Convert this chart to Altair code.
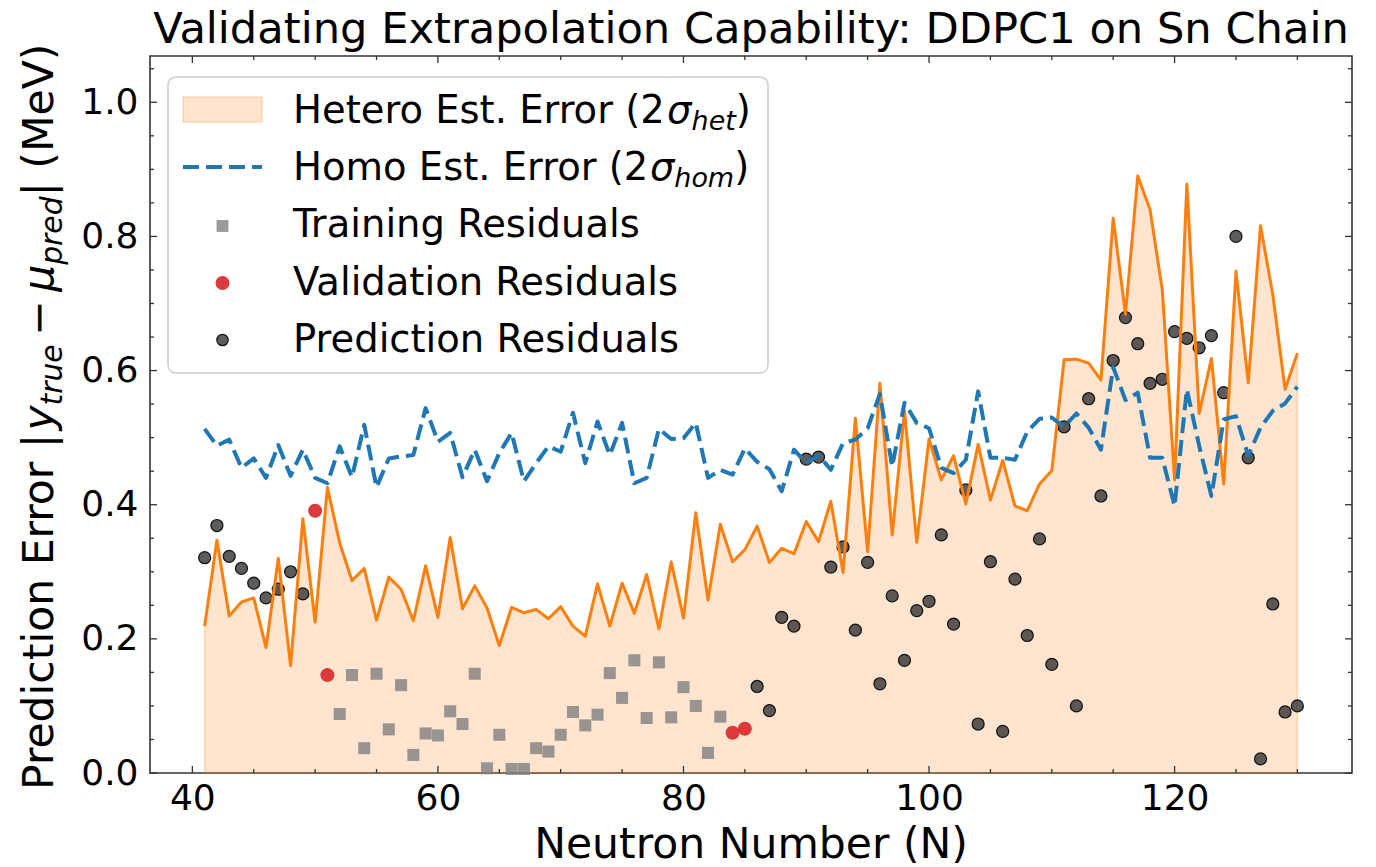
import altair as alt
import pandas as pd

# ---------------- data ----------------
N_all = list(range(41, 131))
het = [0.219, 0.347, 0.234, 0.255, 0.261, 0.187, 0.320, 0.160, 0.379, 0.225,
       0.426, 0.343, 0.287, 0.305, 0.228, 0.292, 0.274, 0.227, 0.309, 0.232,
       0.351, 0.245, 0.279, 0.246, 0.190, 0.247, 0.239, 0.244, 0.230, 0.248,
       0.219, 0.204, 0.282, 0.219, 0.283, 0.238, 0.296, 0.215, 0.315, 0.231,
       0.388, 0.258, 0.371, 0.315, 0.333, 0.368, 0.314, 0.335, 0.327, 0.375,
       0.345, 0.405, 0.299, 0.529, 0.330, 0.581, 0.355, 0.540, 0.344, 0.498,
       0.437, 0.473, 0.401, 0.490, 0.407, 0.466, 0.398, 0.391, 0.431, 0.451,
       0.616, 0.617, 0.611, 0.586, 0.827, 0.684, 0.890, 0.840, 0.720, 0.437,
       0.878, 0.536, 0.618, 0.431, 0.748, 0.582, 0.816, 0.713, 0.572, 0.626]
hom = [0.513, 0.488, 0.497, 0.455, 0.469, 0.440, 0.489, 0.443, 0.482, 0.440,
       0.432, 0.487, 0.441, 0.519, 0.426, 0.469, 0.472, 0.474, 0.544, 0.494,
       0.507, 0.441, 0.482, 0.435, 0.477, 0.507, 0.435, 0.462, 0.487, 0.479,
       0.537, 0.462, 0.524, 0.474, 0.522, 0.432, 0.440, 0.513, 0.498, 0.499,
       0.522, 0.440, 0.452, 0.445, 0.484, 0.464, 0.453, 0.420, 0.482, 0.462,
       0.474, 0.452, 0.492, 0.497, 0.514, 0.565, 0.457, 0.552, 0.522, 0.514,
       0.455, 0.447, 0.467, 0.569, 0.470, 0.470, 0.467, 0.509, 0.528, 0.530,
       0.516, 0.536, 0.515, 0.482, 0.605, 0.556, 0.567, 0.470, 0.470, 0.398,
       0.572, 0.488, 0.413, 0.527, 0.532, 0.473, 0.515, 0.540, 0.551, 0.576]

train_N = list(range(52, 84))
train_v = [0.088, 0.146, 0.037, 0.148, 0.065, 0.131, 0.027, 0.059, 0.056, 0.092,
           0.073, 0.148, 0.007, 0.057, 0.006, 0.006, 0.037, 0.032, 0.057, 0.091,
           0.071, 0.087, 0.149, 0.112, 0.168, 0.082, 0.165, 0.083, 0.128, 0.100,
           0.030, 0.084]

val_N = [50, 51, 84, 85]
val_v = [0.391, 0.146, 0.060, 0.066]

pred_N = list(range(41, 50)) + list(range(86, 131))
pred_v = [0.321, 0.369, 0.323, 0.305, 0.283, 0.261, 0.274, 0.300, 0.267,
          0.129, 0.093, 0.232, 0.219, 0.468, 0.471, 0.307, 0.337, 0.213, 0.314,
          0.133, 0.264, 0.168, 0.242, 0.256, 0.355, 0.222, 0.422, 0.073, 0.315,
          0.062, 0.289, 0.205, 0.349, 0.162, 0.516, 0.100, 0.558, 0.413, 0.615,
          0.679, 0.640, 0.581, 0.587, 0.658, 0.648, 0.634, 0.652, 0.567, 0.800,
          0.470, 0.021, 0.252, 0.091, 0.100]

x_major = [40, 60, 80, 100, 120]
x_minor = [45, 50, 55, 65, 70, 75, 85, 90, 95, 105, 110, 115, 125, 130]
y_major = [0.0, 0.2, 0.4, 0.6, 0.8, 1.0]
y_minor = [0.05, 0.1, 0.15, 0.25, 0.3, 0.35, 0.45, 0.5, 0.55, 0.65, 0.7, 0.75,
           0.85, 0.9, 0.95, 1.05]

title_text = "Validating Extrapolation Capability: DDPC1 on Sn Chain"
xlabel_text = "Neutron Number (N)"
legend_rows = ["Hetero Est. Error", "Homo Est. Error", "Training Residuals",
               "Validation Residuals", "Prediction Residuals"]

# ---------------- layout / style ----------------
FONT = "DejaVu Sans"
W, H = 1202, 717
SPINE = "#333333"
ORANGE = "#ff7f0e"
BLUE = "#1f77b4"
TICKFS = 36

xscale = alt.Scale(domain=[36.55, 134.45], nice=False, zero=False)
yscale = alt.Scale(domain=[0, 1.069], nice=False, zero=False)
xaxis = alt.Axis(values=x_major, format="d", ticks=False, domain=False, grid=False,
                 labelFontSize=TICKFS, labelFont=FONT, labelColor="black", labelPadding=8,
                 labelOverlap=False, labelFlush=False, title=None)
yaxis = alt.Axis(values=y_major, format=".1f", ticks=False, domain=False, grid=False,
                 labelFontSize=TICKFS, labelFont=FONT, labelColor="black", labelPadding=12,
                 labelOverlap=False, labelFlush=False, title=None)


def X(field):
    return alt.X(field + ":Q", scale=xscale, axis=xaxis)


def Y(field):
    return alt.Y(field + ":Q", scale=yscale, axis=yaxis)


curves = pd.DataFrame({"N": N_all, "het": het, "hom": hom})
train_df = pd.DataFrame({"N": train_N, "v": train_v})
val_df = pd.DataFrame({"N": val_N, "v": val_v})
pred_df = pd.DataFrame({"N": pred_N, "v": pred_v})

area = alt.Chart(curves).mark_area(
    color=ORANGE, fillOpacity=0.2, stroke=ORANGE, strokeOpacity=0.25, strokeWidth=1.5
).encode(x=X("N"), y=Y("het"))

train_pts = alt.Chart(train_df).mark_point(
    shape="square", filled=True, size=145, color="#7f7f7f", opacity=0.8
).encode(x=X("N"), y=Y("v"))

val_pts = alt.Chart(val_df).mark_point(
    shape="circle", filled=True, size=195, color="#d62728", opacity=0.9
).encode(x=X("N"), y=Y("v"))

pred_pts = alt.Chart(pred_df).mark_point(
    shape="circle", filled=True, size=145, fill="#333333", fillOpacity=0.8,
    stroke="black", strokeWidth=1.2, strokeOpacity=0.9
).encode(x=X("N"), y=Y("v"))

het_line = alt.Chart(curves).mark_line(
    color=ORANGE, strokeWidth=3, strokeJoin="round"
).encode(x=X("N"), y=Y("het"))

hom_line = alt.Chart(curves).mark_line(
    color=BLUE, strokeWidth=4, strokeDash=[16, 7], strokeJoin="round"
).encode(x=X("N"), y=Y("hom"))


# ---------------- inward ticks on all four sides ----------------
def xticks(vals, length):
    df = pd.DataFrame({"N": vals})
    bottom = alt.Chart(df).mark_rule(color=SPINE, strokeWidth=1.3).encode(
        x=X("N"), y=alt.value(H), y2=alt.value(H - length))
    top = alt.Chart(df).mark_rule(color=SPINE, strokeWidth=1.3).encode(
        x=X("N"), y=alt.value(0), y2=alt.value(length))
    return [bottom, top]


def yticks(vals, length):
    df = pd.DataFrame({"v": vals})
    left = alt.Chart(df).mark_rule(color=SPINE, strokeWidth=1.3).encode(
        y=Y("v"), x=alt.value(0), x2=alt.value(length))
    right = alt.Chart(df).mark_rule(color=SPINE, strokeWidth=1.3).encode(
        y=Y("v"), x=alt.value(W), x2=alt.value(W - length))
    return [left, right]


tick_layers = xticks(x_major, 7) + xticks(x_minor, 4) + yticks(y_major, 7) + yticks(y_minor, 4)

# ---------------- text helpers ----------------
ADV = {' ': 651, '(': 799, ')': 799, '.': 651, '|': 690, '2': 1303, 'P': 1235,
       'E': 1294, 'M': 1767, 'V': 1401, 'H': 1540, 'a': 1255, 'c': 1126, 'd': 1300,
       'e': 1260, 'h': 1298, 'i': 569, 'm': 1995, 'n': 1298, 'o': 1253, 'p': 1300,
       'r': 842, 's': 1067, 't': 803, 'u': 1298, 'y': 1212, 'σ': 1300, 'μ': 1300,
       '−': 1716}


def adv(s, size):
    return sum(ADV.get(c, 1250) for c in s) / 2048.0 * size


one = pd.DataFrame({"k": [0]})


def txt(s, x, y, size, italic=False, angle=None, align="left", baseline="alphabetic"):
    kw = dict(text=s, font=FONT, fontSize=size, color="black", align=align, baseline=baseline)
    if italic:
        kw["fontStyle"] = "italic"
    if angle is not None:
        kw["angle"] = angle
    return alt.Chart(one).mark_text(**kw).encode(x=alt.value(x), y=alt.value(y))


text_layers = []

# title and x label
text_layers.append(txt(title_text, W / 2, -13, 43.2, align="center"))
text_layers.append(txt(xlabel_text, W / 2, 802, 42.5, align="center"))

# y label (rotated, reads bottom to top) built from pieces
F = 42.5
S = 0.7 * F
ylab = [("Prediction Error |", F, False, 0, 0), ("y", F, True, 0, 0),
        ("true", S, True, 8.5, 0), ("−", F, False, 0, 0.2 * F),
        ("μ", F, True, 0, 0.2 * F), ("pred", S, True, 8.5, 0),
        ("| (MeV)", F, False, 0, 0)]
ystart = 734
pos = 0.0
for s, size, it, shift, gap in ylab:
    pos += gap
    text_layers.append(txt(s, -97 + shift, ystart - pos, size, it, angle=270))
    pos += adv(s, size)

# ---------------- legend ----------------
LF = 38.5
LS = 0.7 * LF
legend_box = alt.Chart(one).mark_rect(
    fill="white", fillOpacity=0.8, stroke="#cccccc", strokeWidth=1.5, cornerRadius=8
).encode(x=alt.value(18), x2=alt.value(618), y=alt.value(21), y2=alt.value(317))

patch = alt.Chart(one).mark_rect(
    fill=ORANGE, fillOpacity=0.2, stroke=ORANGE, strokeOpacity=0.25, strokeWidth=1.5
).encode(x=alt.value(33), x2=alt.value(112), y=alt.value(41), y2=alt.value(66))

dash = alt.Chart(one).mark_rule(color=BLUE, strokeWidth=4, strokeDash=[16, 7]).encode(
    x=alt.value(33), x2=alt.value(112), y=alt.value(111))

leg_sq = alt.Chart(one).mark_point(shape="square", filled=True, size=140, color="#7f7f7f",
                                   opacity=0.8).encode(x=alt.value(72.5), y=alt.value(170))
leg_red = alt.Chart(one).mark_point(shape="circle", filled=True, size=195, color="#d62728",
                                    opacity=0.9).encode(x=alt.value(72.5), y=alt.value(227))
leg_pred = alt.Chart(one).mark_point(shape="circle", filled=True, size=130, fill="#333333",
                                     fillOpacity=0.8, stroke="black", strokeWidth=1.2,
                                     strokeOpacity=0.9).encode(x=alt.value(72.5), y=alt.value(284))

legend_layers = [legend_box, patch, dash, leg_sq, leg_red, leg_pred]
TX = 143
bases = [67, 124, 181, 239, 296]
subs = ["het", "hom"]
for i in range(2):
    segs = [(legend_rows[i] + " (2", LF, False, 0), ("σ", LF, True, 0),
            (subs[i], LS, True, 7), (")", LF, False, 0)]
    pos = TX
    for s, size, it, shift in segs:
        legend_layers.append(txt(s, pos, bases[i] + shift, size, it))
        pos += adv(s, size)
for i in range(2, 5):
    legend_layers.append(txt(legend_rows[i], TX, bases[i], LF))

chart = alt.layer(
    area, train_pts, val_pts, pred_pts, het_line, hom_line,
    *tick_layers, *text_layers, *legend_layers
).properties(
    width=W, height=H,
    padding={"left": 150, "top": 56, "right": 24, "bottom": 94},
    autosize=alt.AutoSizeParams(type="none"),
).configure_view(stroke=SPINE, strokeWidth=1.6)

chart.save("out.html", embed_options={"renderer": "svg", "actions": False})
